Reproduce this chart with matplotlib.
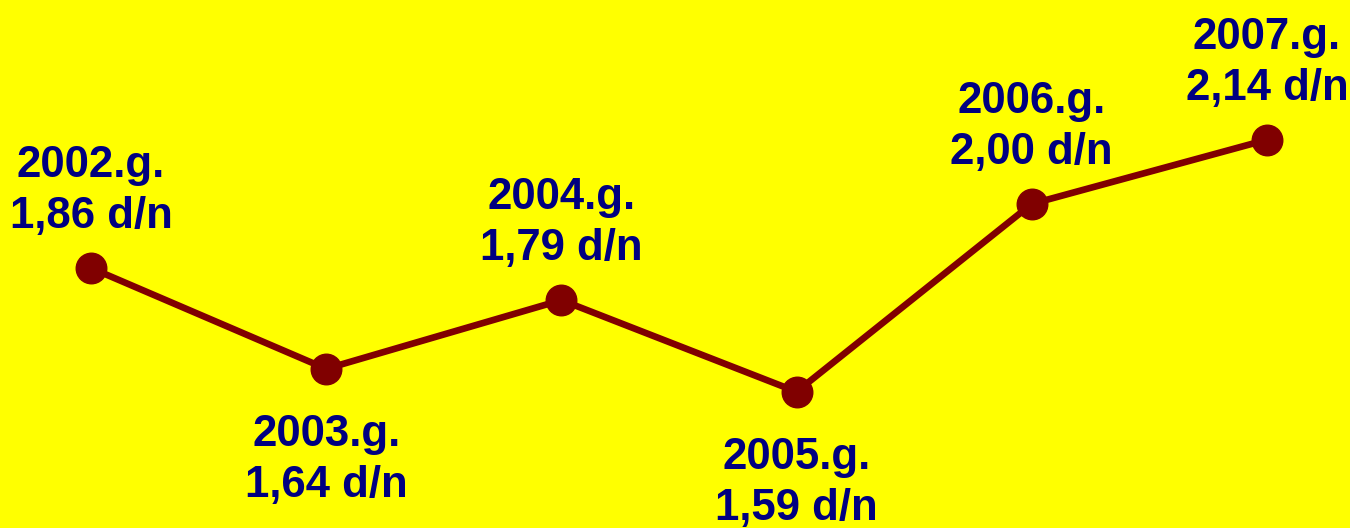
import matplotlib
matplotlib.use('Agg')
import matplotlib.pyplot as plt

# dati
gadi = ['2002.g.', '2003.g.', '2004.g.', '2005.g.', '2006.g.', '2007.g.']
vertibas = [1.86, 1.64, 1.79, 1.59, 2.00, 2.14]
teksti = ['1,86 d/n', '1,64 d/n', '1,79 d/n', '1,59 d/n', '2,00 d/n', '2,14 d/n']
virziens = [1, -1, 1, -1, 1, 1]  # 1 = virs punkta, -1 = zem

plt.rcParams['font.family'] = ['Liberation Sans', 'DejaVu Sans']

fig = plt.figure(figsize=(13.5, 5.28), dpi=100, facecolor='#ffff00')
ax = fig.add_axes([0, 0, 1, 1])
ax.set_facecolor('#ffff00')

x = list(range(len(gadi)))
ax.plot(x, vertibas, color='#800000', lw=4.8, marker='o', ms=22,
        markerfacecolor='#800000', markeredgecolor='#800000')

for i, (g, v, t, d) in enumerate(zip(gadi, vertibas, teksti, virziens)):
    nobide = 77 if d > 0 else -91
    ax.annotate(g + '\n' + t, (i, v), xytext=(0, nobide), textcoords='offset pixels',
                ha='center', va='center', fontsize=31.5, fontweight='bold',
                color='#000080', linespacing=1.3)

ax.set_xlim(-0.387, 5.353)
ax.set_ylim(1.2926, 2.445)
ax.axis('off')

fig.savefig('out.png', dpi=100, facecolor='#ffff00')
